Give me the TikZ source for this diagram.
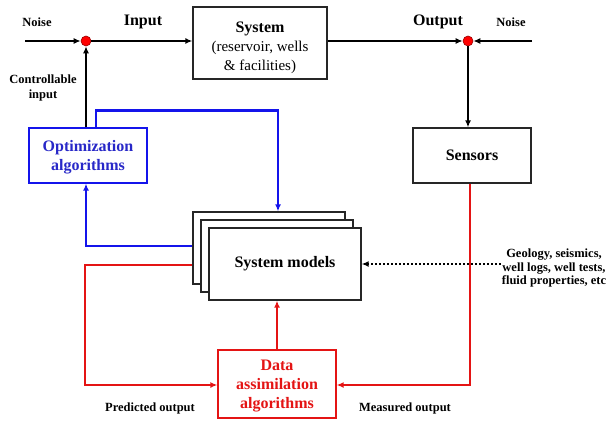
\documentclass[tikz,border=0pt]{standalone}
\usepackage{fontspec}
\setmainfont{Liberation Serif}
\usetikzlibrary{arrows.meta,positioning,calc}
\definecolor{myred}{RGB}{228,20,20}
\definecolor{myblue}{RGB}{20,20,235}
\definecolor{txtblue}{RGB}{40,40,200}
\tikzset{
  box/.style={draw=black!85,line width=1.3pt,rectangle,inner sep=0pt,align=center,fill=white},
  bigtxt/.style={font=\fontsize{16}{18}\selectfont\bfseries},
  smalltxt/.style={font=\fontsize{12.5}{15}\selectfont\bfseries,align=center},
  blk/.style={line width=2pt,black,-{Latex[length=7pt,width=6pt]}},
  redl/.style={line width=2.4pt,myred,-{Latex[length=7pt,width=6pt]}},
  bluel/.style={line width=2.4pt,myblue,-{Latex[length=7pt,width=6pt]}},
  sumdot/.style={circle,fill=red,draw=red!60!black,line width=0.6pt,minimum size=10pt,inner sep=0pt}
}
\begin{document}
\begin{tikzpicture}[x=1pt,y=-1pt]
\useasboundingbox (0,0) rectangle (612,422);
% sum points
\node[sumdot] (d1) at (86,41) {};
\node[sumdot] (d2) at (468,41) {};
% boxes
\node[box,minimum width=134pt,minimum height=72pt,font=\fontsize{15}{19}\selectfont] (sys) at (260,43)
  {\rule{0pt}{20pt}\fontsize{16}{19}\selectfont\textbf{System}\\(reservoir, wells\\\& facilities)};
\node[box,minimum width=118pt,minimum height=55pt,bigtxt] (sens) at (472,155.5) {Sensors};
\node[box,draw=myblue,minimum width=118pt,minimum height=55pt,text=txtblue,font=\fontsize{16}{19}\selectfont\bfseries] (opt) at (88,155.5) {\rule{0pt}{15pt}Optimization\\algorithms};
\node[box,draw=myred,minimum width=118pt,minimum height=68pt,text=myred,font=\fontsize{16}{19}\selectfont\bfseries] (data) at (277,384) {\rule{0pt}{15pt}Data\\assimilation\\algorithms};
\node[box,minimum width=152pt,minimum height=72pt] (mback) at (269,248) {};
\node[box,minimum width=152pt,minimum height=72pt] (mmid) at (277,256) {};
\node[box,minimum width=152pt,minimum height=72pt,bigtxt] (mfront) at (285,264) {System models};
% labels
\node[smalltxt] (noiseL) at (37,22) {Noise};
\node[bigtxt] (inp) at (143,22) {Input};
\node[bigtxt] (outp) at (438,22) {Output};
\node[smalltxt] (noiseR) at (511,22) {Noise};
\node[smalltxt,font=\fontsize{12.5}{15}\selectfont\bfseries] (ctrl) at (43,88) {Controllable\\input};
\node[smalltxt] (pred) at (150,408) {Predicted output};
\node[smalltxt] (meas) at (405,408) {Measured output};
\node[smalltxt,font=\fontsize{12.5}{13.5}\selectfont\bfseries,inner sep=1pt] (geo) at (554,268) {Geology, seismics,\\well logs, well tests,\\fluid properties, etc};
\coordinate (nl) at (25,41);
\coordinate (nr) at (532,41);
% black connectors
\draw[blk] (nl) -- (d1);
\draw[blk] (d1) -- (d1 -| sys.west);
\draw[blk] (d2 -| sys.east) -- (d2);
\draw[blk] (nr) -- (d2);
\draw[blk] (d2) -- (d2 |- sens.north);
\draw[blk] (d1 |- opt.north) -- (d1);
% blue
\draw[bluel] ([xshift=10pt]d1 |- opt.north) -- ++(0,-17) -| ([xshift=9pt]mback.north);
\draw[bluel] ([yshift=2pt]mback.west) -| (d1 |- opt.south);
% red
\draw[redl] ([yshift=-17pt]mback.west) -| (85,385) -- (data.west |- 0,385);
\draw[redl] ([xshift=-2pt]sens.south) |- (data.east |- 0,385);
\draw[redl] (data.north) -- (data.north |- mfront.south);
% dotted
\draw[line width=2pt,dotted,-{Latex[length=7pt,width=6pt]}] (geo.west |- mfront.east) -- (mfront.east);
\end{tikzpicture}
\end{document}
